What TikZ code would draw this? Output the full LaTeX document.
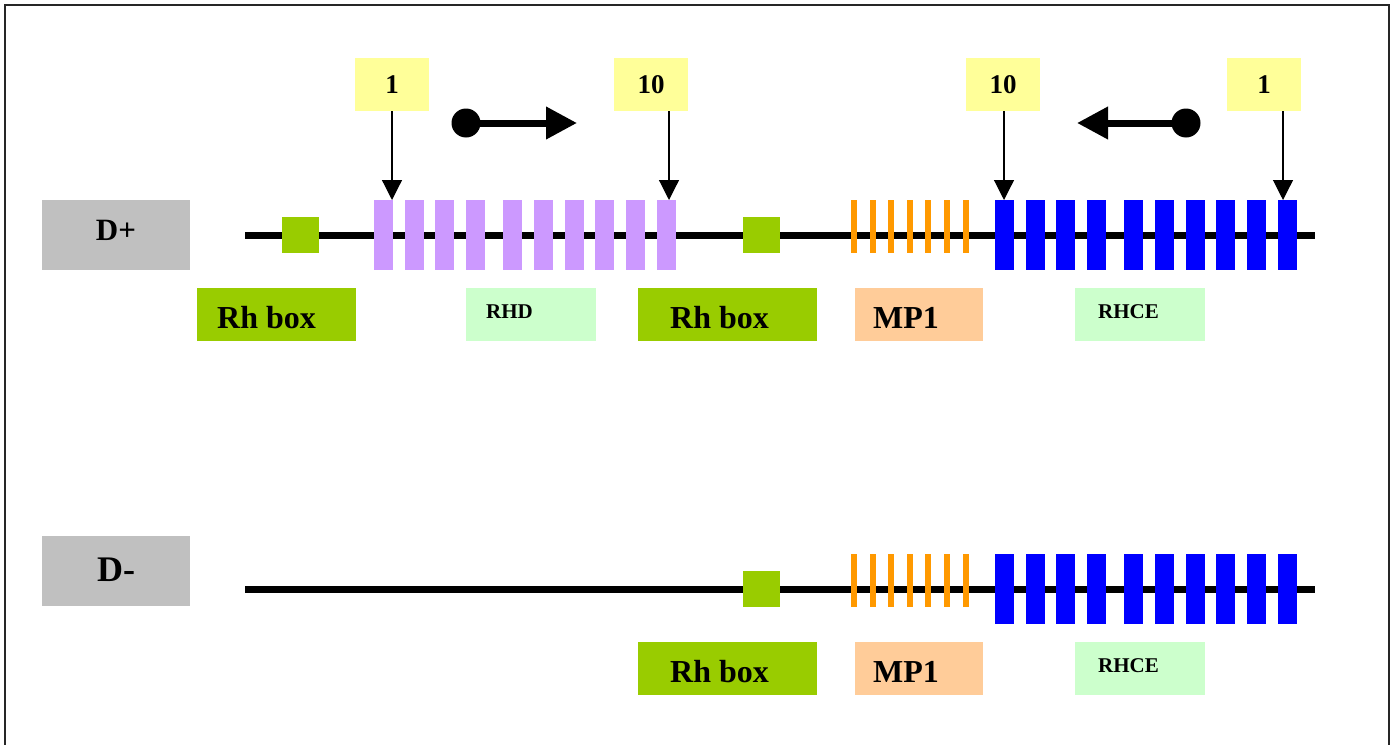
\documentclass[tikz,border=0pt]{standalone}
\usepackage{fontspec}
\setmainfont{Liberation Serif}
\usetikzlibrary{arrows.meta,positioning}

\definecolor{dgray}{HTML}{C0C0C0}
\definecolor{numyellow}{HTML}{FFFF99}
\definecolor{rhgreen}{HTML}{99CC00}
\definecolor{palegreen}{HTML}{CCFFCC}
\definecolor{mppeach}{HTML}{FFCC99}
\definecolor{rhdpurple}{HTML}{CC99FF}
\definecolor{mporange}{HTML}{FF9900}
\definecolor{rhceblue}{HTML}{0000FF}

\tikzset{
  genebox/.style={fill=#1, inner sep=0pt, draw=none},
  exon/.style={fill=#1, inner sep=0pt, draw=none, minimum width=19pt, minimum height=70pt},
  numbox/.style={fill=numyellow, inner sep=0pt, minimum width=74pt, minimum height=53pt,
    font=\fontsize{27}{30}\selectfont\bfseries},
  bigtxt/.style={inner sep=0pt, anchor=base west, font=\fontsize{32}{36}\selectfont\bfseries},
  smalltxt/.style={inner sep=0pt, anchor=base west, font=\fontsize{21}{24}\selectfont\bfseries},
  gene/.style={line width=7pt, black},
  pin/.style={line width=1.2pt, -{Triangle[length=20pt,width=20pt]}},
  dirarrow/.style={line width=7pt, -{Triangle[length=31pt,width=31pt]}},
  dot/.style={circle, fill=black, inner sep=0pt, minimum size=29pt}
}

\begin{document}
\begin{tikzpicture}[x=1pt,y=-1pt]
  \useasboundingbox (0,0) rectangle (1396,744);
  \draw[line width=2pt, black!85] (5,5) rectangle (1389,770);

  % D+ allele
  \node[genebox=dgray, minimum width=148pt, minimum height=70pt] (dplus) at (116,235) {};
  \node[inner sep=0pt, anchor=base, font=\fontsize{31}{34}\selectfont\bfseries] (dplustxt) at (116,240) {D+};
  \draw[gene] (245,235) -- (1315,235);
  \node[genebox=rhgreen, minimum width=37pt, minimum height=36pt] (rhsqA) at (300.5,235) {};
  \node[genebox=rhgreen, minimum width=37pt, minimum height=36pt] (rhsqB) at (761.5,235) {};
  \foreach \dx [count=\i] in {0,31,61,92,129,160,191,221,252,283} {
    \node[exon=rhdpurple] (p\i) at (383.5+\dx,235) {};
    \node[exon=rhceblue] (b\i) at (1004.5+\dx,235) {};
  }
  \foreach \i in {0,...,6}
    \fill[mporange] (851+18.6*\i,200) rectangle ++(6,53);

  % exon numbers
  \node[numbox] (nA) at (392,84.5) {1};
  \node[numbox] (nB) at (651,84.5) {10};
  \node[numbox] (nC) at (1003,84.5) {10};
  \node[numbox] (nD) at (1264,84.5) {1};
  \coordinate (tipA) at (392,200);
  \coordinate (tipB) at (669,200);
  \coordinate (tipC) at (1004,200);
  \coordinate (tipD) at (1283,200);
  \draw[pin] (tipA |- nA.south) -- (tipA);
  \draw[pin] (tipB |- nB.south) -- (tipB);
  \draw[pin] (tipC |- nC.south) -- (tipC);
  \draw[pin] (tipD |- nD.south) -- (tipD);

  % orientation
  \node[dot] (dotA) at (466,123) {};
  \node[dot] (dotB) at (1186,123) {};
  \coordinate (headA) at (577,123);
  \coordinate (headB) at (1077,123);
  \draw[dirarrow] (dotA.center) -- (headA);
  \draw[dirarrow] (dotB.center) -- (headB);

  % labels D+
  \node[genebox=rhgreen, minimum width=159pt, minimum height=53pt] (rhA) at (276.5,314.5) {};
  \node[bigtxt] at (217,328) {Rh box};
  \node[genebox=palegreen, minimum width=130pt, minimum height=53pt] (rhd) at (531,314.5) {};
  \node[smalltxt] at (486,318) {RHD};
  \node[genebox=rhgreen, minimum width=179pt, minimum height=53pt] (rhB) at (727.5,314.5) {};
  \node[bigtxt] at (670,328) {Rh box};
  \node[genebox=mppeach, minimum width=128pt, minimum height=53pt] (mpA) at (919,314.5) {};
  \node[bigtxt] at (873,328) {MP1};
  \node[genebox=palegreen, minimum width=130pt, minimum height=53pt] (rhceA) at (1140,314.5) {};
  \node[smalltxt] at (1098,318) {RHCE};

  % D- allele
  \node[genebox=dgray, minimum width=148pt, minimum height=70pt] (dminus) at (116,571) {};
  \node[inner sep=0pt, anchor=base, font=\fontsize{36}{40}\selectfont\bfseries] (dminustxt) at (116,581) {D-};
  \draw[gene] (245,589) -- (1315,589);
  \node[genebox=rhgreen, minimum width=37pt, minimum height=36pt] (rhsqC) at (761.5,589) {};
  \foreach \dx [count=\i] in {0,31,61,92,129,160,191,221,252,283}
    \node[exon=rhceblue] (c\i) at (1004.5+\dx,589) {};
  \foreach \i in {0,...,6}
    \fill[mporange] (851+18.6*\i,554) rectangle ++(6,53);

  % labels D-
  \node[genebox=rhgreen, minimum width=179pt, minimum height=53pt] (rhC) at (727.5,668.5) {};
  \node[bigtxt] at (670,682) {Rh box};
  \node[genebox=mppeach, minimum width=128pt, minimum height=53pt] (mpB) at (919,668.5) {};
  \node[bigtxt] at (873,682) {MP1};
  \node[genebox=palegreen, minimum width=130pt, minimum height=53pt] (rhceB) at (1140,668.5) {};
  \node[smalltxt] at (1098,672) {RHCE};
\end{tikzpicture}
\end{document}
